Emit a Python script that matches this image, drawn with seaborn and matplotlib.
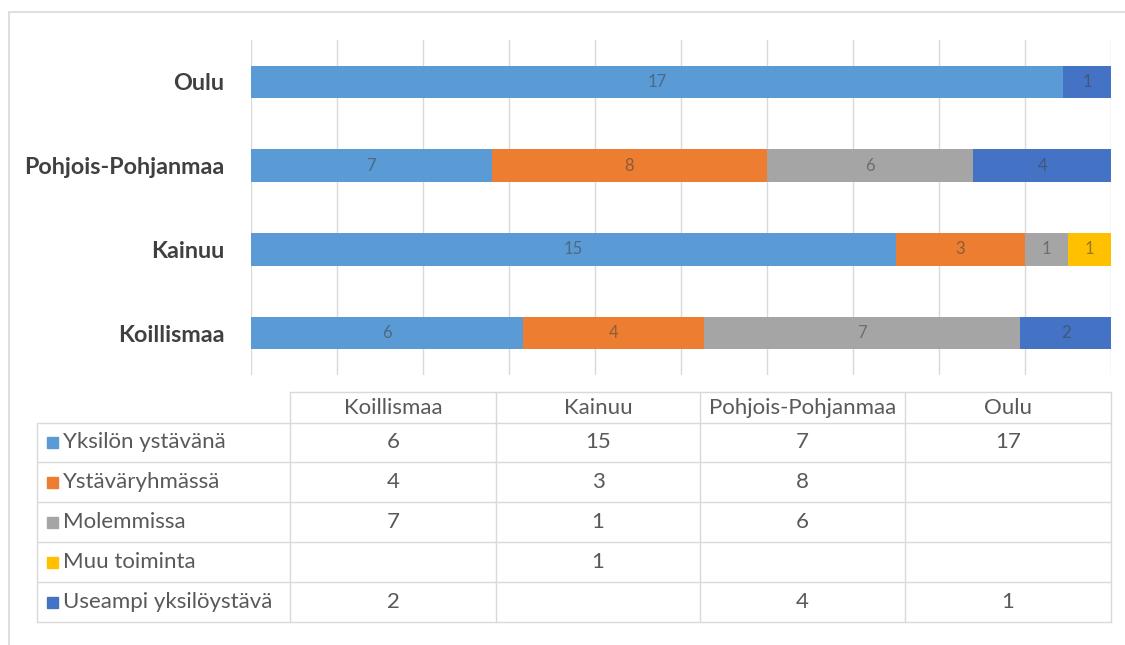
import numpy as np
import pandas as pd
import matplotlib
matplotlib.use("Agg")
import matplotlib.pyplot as plt
from matplotlib.patches import Rectangle
from matplotlib.lines import Line2D
import seaborn as sns

# ---------------- data ----------------
regions = ["Koillismaa", "Kainuu", "Pohjois-Pohjanmaa", "Oulu"]
series = ["Yksilön ystävänä", "Ystäväryhmässä", "Molemmissa", "Muu toiminta", "Useampi yksilöystävä"]
yksilon_ystavana = [6, 15, 7, 17]
ystavaryhmassa = [4, 3, 8, None]
molemmissa = [7, 1, 6, None]
muu_toiminta = [None, 1, None, None]
useampi_yksiloystava = [2, None, 4, 1]
colors = ["#5B9BD5", "#ED7D31", "#A5A5A5", "#FFC000", "#4472C4"]

values = [yksilon_ystavana, ystavaryhmassa, molemmissa, muu_toiminta, useampi_yksiloystava]

# ---------------- figure ----------------
sns.set_theme(style="white")
plt.rcParams["font.family"] = ["Lato", "DejaVu Sans"]

W, H = 1125, 645
fig = plt.figure(figsize=(W / 100, H / 100), dpi=100)

# background frame (top and left edges)
frame = fig.add_axes([0, 0, 1, 1])
frame.set_xlim(0, W)
frame.set_ylim(H, 0)
frame.axis("off")
frame.add_line(Line2D([9, W], [12, 12], color="#D9D9D9", lw=1.2))
frame.add_line(Line2D([9, 9], [12, H], color="#D9D9D9", lw=1.2))

# bar axes
x0, x1, ytop, ybot = 251, 1111, 40, 375
ax = fig.add_axes([x0 / W, (H - ybot) / H, (x1 - x0) / W, (ybot - ytop) / H])

bar_order = regions[::-1]  # Oulu at top
arr = np.array([[np.nan if v is None else v for v in s] for s in values], dtype=float)
totals = np.nansum(arr, axis=0)
shares = np.nan_to_num(arr) / totals * 100.0
cum = np.cumsum(shares, axis=0)

# draw cumulative bars from the last series back to the first (overlapping stack)
for k in range(len(series) - 1, -1, -1):
    df = pd.DataFrame({"region": regions, "cum": cum[k]})
    sns.barplot(data=df, y="region", x="cum", order=bar_order, orient="h",
                color=colors[k], saturation=1, width=0.39, ax=ax,
                edgecolor="none", linewidth=0, zorder=3)

ax.set_xlim(0, 100)
ax.set_ylim(3.5, -0.5)
ax.set_xticks(np.arange(0, 101, 10))
ax.set_xticklabels([])
ax.tick_params(axis="x", length=0)
ax.tick_params(axis="y", length=0, pad=19)
ax.grid(axis="x", color="#D9D9D9", lw=1, zorder=0)
ax.grid(axis="y", visible=False)
for s in ax.spines.values():
    s.set_visible(False)
ax.set_xlabel("")
ax.set_ylabel("")
for lab in ax.get_yticklabels():
    lab.set_fontweight("bold")
    lab.set_fontsize(16.8)
    lab.set_color("#404040")

# value labels in segments
for k in range(len(series)):
    for j, reg in enumerate(regions):
        v = arr[k, j]
        if np.isnan(v):
            continue
        ypos = bar_order.index(reg)
        start = cum[k, j] - shares[k, j]
        ax.text(start + shares[k, j] / 2, ypos, f"{int(v)}", ha="center", va="center",
                fontsize=12, color="#404040", alpha=0.55, zorder=5)

# ---------------- data table ----------------
tab = frame
col_edges = [37, 290, 496, 700, 905, 1111]
row_edges = [392, 423, 462, 502, 542, 582, 622]
line_c = "#D9D9D9"
txt_c = "#595959"
tab.add_line(Line2D([col_edges[1], col_edges[-1]], [row_edges[0]] * 2, color=line_c, lw=1))
for yy in row_edges[1:]:
    tab.add_line(Line2D([col_edges[0], col_edges[-1]], [yy] * 2, color=line_c, lw=1))
tab.add_line(Line2D([col_edges[0]] * 2, [row_edges[1], row_edges[-1]], color=line_c, lw=1))
for xx in col_edges[1:]:
    tab.add_line(Line2D([xx] * 2, [row_edges[0], row_edges[-1]], color=line_c, lw=1))

fs_tab = 16
for j, reg in enumerate(regions):
    cx = (col_edges[j + 1] + col_edges[j + 2]) / 2
    cy = (row_edges[0] + row_edges[1]) / 2
    tab.text(cx, cy, reg, ha="center", va="center", fontsize=fs_tab, color=txt_c)

for k, name in enumerate(series):
    cy = (row_edges[k + 1] + row_edges[k + 2]) / 2
    tab.add_patch(Rectangle((47, cy - 5.5), 11, 11, color=colors[k]))
    tab.text(63, cy, name, ha="left", va="center", fontsize=fs_tab, color=txt_c)
    for j in range(len(regions)):
        v = values[k][j]
        if v is None:
            continue
        cx = (col_edges[j + 1] + col_edges[j + 2]) / 2
        tab.text(cx, cy, f"{v}", ha="center", va="center", fontsize=fs_tab, color=txt_c)

fig.savefig("out.png", dpi=100)
